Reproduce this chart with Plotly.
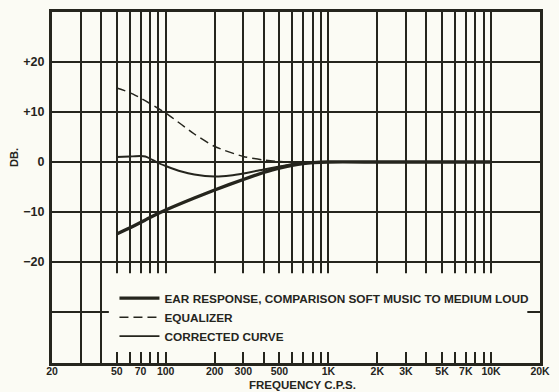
import plotly.graph_objects as go

# ---- data ----
ear_freq = [50, 60, 70, 80, 100, 150, 200, 300, 400, 500, 700, 1000, 2000, 5000, 10000]
ear_db = [-14.4, -13.2, -12.1, -11.1, -9.6, -7.2, -5.6, -3.5, -2.1, -1.2, -0.3, 0, 0, 0, 0]

eq_freq = [50, 60, 70, 80, 90, 100, 125, 150, 200, 300, 400, 500, 700, 1000, 2000, 5000, 10000]
eq_db = [14.8, 13.9, 12.8, 11.7, 10.7, 9.8, 7.5, 5.6, 3.1, 1.1, 0.4, 0.1, 0, 0, 0, 0, 0]

cor_freq = [50, 60, 70, 75, 80, 90, 100, 125, 150, 200, 250, 300, 400, 500, 700, 1000, 2000, 5000, 10000]
cor_db = [1.0, 1.1, 1.2, 1.1, 0.7, -0.2, -0.8, -1.9, -2.5, -2.9, -2.7, -2.3, -1.5, -0.9, -0.1, 0, 0, 0, 0]

series_names = [
    "EAR RESPONSE, COMPARISON SOFT MUSIC TO MEDIUM LOUD",
    "EQUALIZER",
    "CORRECTED CURVE",
]

x_grid_vals = [20, 30, 40, 50, 60, 70, 80, 90, 100, 200, 300, 400, 500, 600, 700, 800, 900,
               1000, 2000, 3000, 4000, 5000, 6000, 7000, 8000, 9000, 10000, 20000]
x_grid_text = ["20", "", "", "50", "", "70", "", "", "100", "200", "300", "", "500", "", "", "", "",
               "1K", "2K", "3K", "", "5K", "", "7K", "", "", "10K", "20K"]

y_grid_vals = [-30, -20, -10, 0, 10, 20]
y_grid_text = ["", "\u221220", "\u221210", "0", "+10", "+20"]

x_title = "FREQUENCY C.P.S."
y_title = "DB."

# ---- styling ----
INK = "#25251d"
PAPER = "#fbfbf4"
FONT = "Liberation Sans, Arial, sans-serif"

fig = go.Figure()
fig.add_trace(go.Scatter(x=ear_freq, y=ear_db, mode="lines", name=series_names[0],
                         line=dict(color=INK, width=3.4, shape="spline", smoothing=0.6)))
fig.add_trace(go.Scatter(x=eq_freq, y=eq_db, mode="lines", name=series_names[1],
                         line=dict(color=INK, width=1.5, dash="9px,5px", shape="spline", smoothing=0.6)))
fig.add_trace(go.Scatter(x=cor_freq, y=cor_db, mode="lines", name=series_names[2],
                         line=dict(color=INK, width=1.9, shape="spline", smoothing=0.6)))

# blank legend panel hiding the grid in the lower part of the chart
fig.add_shape(type="rect", xref="paper", yref="paper",
              x0=0.1165, x1=0.974, y0=0.031, y1=0.256,
              fillcolor=PAPER, line=dict(width=0), layer="above")

fig.add_annotation(text="<b>" + y_title + "</b>", xref="paper", yref="paper",
                   x=-0.078, y=0.587, xanchor="center", yanchor="middle",
                   textangle=-90, showarrow=False, font=dict(family=FONT, size=11, color=INK))
fig.add_annotation(text="<b>" + x_title + "</b>", xref="paper", yref="paper",
                   x=0.514, y=-0.0826, xanchor="center", yanchor="bottom",
                   showarrow=False, borderpad=0, font=dict(family=FONT, size=11.5, color=INK))

fig.update_layout(
    width=559, height=392,
    margin=dict(l=52, r=9, t=12, b=29),
    paper_bgcolor=PAPER, plot_bgcolor=PAPER,
    font=dict(family=FONT, color=INK, size=10),
    showlegend=True,
    legend=dict(x=0.128, y=0.226, xanchor="left", yanchor="top",
                bgcolor="rgba(0,0,0,0)", itemwidth=40,
                font=dict(family=FONT, size=11.8, color=INK, weight="bold"),
                tracegroupgap=0),
    xaxis=dict(type="log", range=[1.30103, 4.30103],
               tickmode="array", tickvals=x_grid_vals, ticktext=x_grid_text,
               showgrid=True, gridcolor=INK, gridwidth=1.8,
               showline=True, linecolor=INK, linewidth=3, mirror=True,
               ticks="", zeroline=False, ticklabelstandoff=-4,
               tickfont=dict(family=FONT, size=10.5, color=INK, weight="bold")),
    yaxis=dict(range=[-40.2, 30],
               tickmode="array", tickvals=y_grid_vals, ticktext=y_grid_text,
               showgrid=True, gridcolor=INK, gridwidth=1.8,
               showline=True, linecolor=INK, linewidth=3, mirror=True,
               ticks="", zeroline=False, ticklabelstandoff=2,
               tickfont=dict(family=FONT, size=12.5, color=INK, weight="bold")),
)

fig.write_html("out.html", config={"displayModeBar": False},
               post_script="document.body.style.margin='0';")
